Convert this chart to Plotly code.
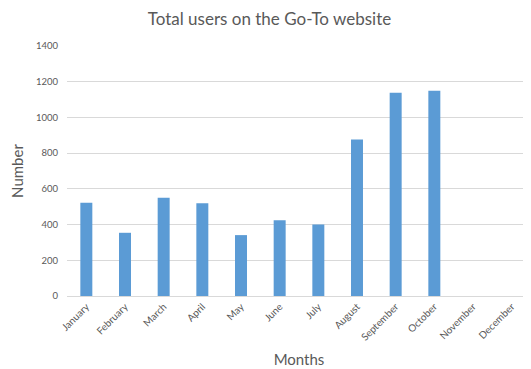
import plotly.graph_objects as go

months = ["January", "February", "March", "April", "May", "June", "July",
          "August", "September", "October", "November", "December"]
users = [522, 354, 550, 519, 341, 424, 401, 877, 1138, 1149, None, None]
y_ticks = [0, 200, 400, 600, 800, 1000, 1200, 1400]

fig = go.Figure(go.Bar(x=months, y=users, marker_color="#5B9BD5", marker_line_width=0))

# page body has an 8px margin, so the figure is sized to the visible area
W, H = 523, 361
fig.update_layout(
    width=W, height=H,
    margin=dict(l=59, r=0, t=38, b=73),
    paper_bgcolor="white", plot_bgcolor="white",
    font=dict(family="Lato, Open Sans, sans-serif", color="#595959"),
    title=dict(text="Total users on the Go-To website", x=0.5, xanchor="center",
               y=1 - 11 / H, yanchor="middle", font=dict(size=17, color="#595959")),
    bargap=0.69,
    showlegend=False,
)
fig.update_xaxes(
    tickangle=-45, tickfont=dict(size=10, color="#595959"),
    title=dict(text="Months", font=dict(size=15, color="#595959"), standoff=12),
    showline=True, linecolor="#d9d9d9", showgrid=False, automargin=False,
)
fig.update_yaxes(
    range=[0, 1400], tickvals=y_ticks, tickfont=dict(size=9.5, color="#595959"),
    title=dict(text="Number", font=dict(size=15, color="#595959"), standoff=18),
    showgrid=True, gridcolor="#d9d9d9", gridwidth=1, zeroline=False,
    ticks="outside", ticklen=6, tickcolor="rgba(0,0,0,0)", automargin=False,
)

fig.write_html("out.html")
